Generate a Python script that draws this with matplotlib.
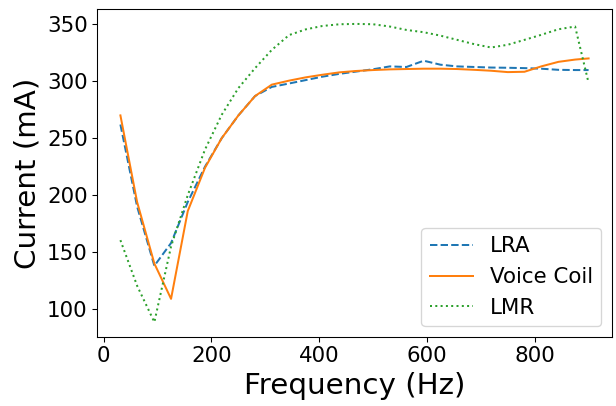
import matplotlib
matplotlib.use("Agg")
import matplotlib.pyplot as plt

freq = [31, 62, 94, 125, 156, 188, 219, 250, 281, 312, 344, 375, 406, 438, 469,
        500, 531, 562, 594, 625, 656, 688, 719, 750, 781, 812, 844, 875, 900]

lra = [262, 190, 138, 158, 194, 225, 250, 270, 287, 295, 298, 301, 304, 306.5, 308.5,
       310.5, 313, 312.5, 318, 314.5, 313, 312.5, 312, 311.8, 311.5, 311, 310, 309.8, 309.8]

voice_coil = [270, 194, 140, 109, 186, 224, 250, 270, 287, 297, 300.5, 303.4, 305.7, 307.8, 309,
              309.8, 310.4, 310.7, 311, 311, 310.7, 310, 309.2, 308, 308.3, 313, 317, 319, 320]

lmr = [160.5, 120.5, 88.6, 155, 200, 240, 270.5, 294, 311.5, 327.5, 340.5, 345.5, 348.5, 350, 350.3,
       350, 348, 345, 343, 340, 336.3, 332.5, 329.6, 332, 336.3, 340.7, 345.6, 348, 298.5]

fig = plt.figure(figsize=(616 / 96, 406 / 96), dpi=96)
ax = fig.add_axes([97 / 616, 1 - 337 / 406, (612 - 97) / 616, (337 - 9) / 406])

ax.plot(freq, lra, "--", color="#1f77b4", lw=1.5, label="LRA")
ax.plot(freq, voice_coil, "-", color="#ff7f0e", lw=1.5, label="Voice Coil")
ax.plot(freq, lmr, ":", color="#2ca02c", lw=1.5, label="LMR")

ax.set_xlabel("Frequency (Hz)", fontsize=22)
ax.set_ylabel("Current (mA)", fontsize=22)
ax.tick_params(labelsize=16)
ax.legend(fontsize=16, loc="lower right")

fig.savefig("out.png", dpi=96)
